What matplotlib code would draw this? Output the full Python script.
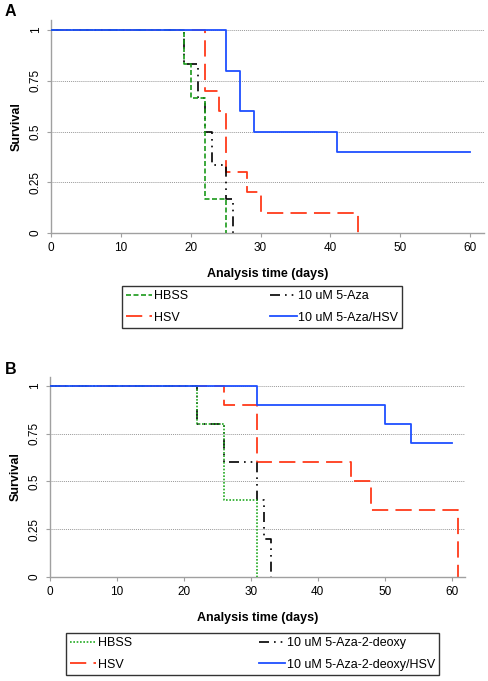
import matplotlib
matplotlib.use("Agg")
import matplotlib.pyplot as plt

plt.rcParams['font.family'] = ['Liberation Sans', 'DejaVu Sans']

# Panel A data (event times, survival after step)
a_hbss_t = [0, 19, 20, 22, 25]
a_hbss_s = [1, 0.833, 0.667, 0.167, 0]
a_aza_t = [0, 19, 21, 22, 23, 25, 26]
a_aza_s = [1, 0.833, 0.667, 0.5, 0.333, 0.167, 0]
a_hsv_t = [0, 22, 24, 25, 28, 30, 44]
a_hsv_s = [1, 0.7, 0.6, 0.3, 0.2, 0.1, 0]
a_azahsv_t = [0, 25, 27, 29, 41, 60]
a_azahsv_s = [1, 0.8, 0.6, 0.5, 0.4, 0.4]
a_labels = ["HBSS", "HSV", "10 uM 5-Aza", "10 uM 5-Aza/HSV"]

# Panel B data
b_hbss_t = [0, 22, 26, 31]
b_hbss_s = [1, 0.8, 0.4, 0]
b_aza_t = [0, 22, 26, 31, 32, 33]
b_aza_s = [1, 0.8, 0.6, 0.4, 0.2, 0]
b_hsv_t = [0, 26, 31, 45, 48, 61]
b_hsv_s = [1, 0.9, 0.6, 0.5, 0.35, 0]
b_azahsv_t = [0, 31, 50, 54, 60]
b_azahsv_s = [1, 0.9, 0.8, 0.7, 0.7]
b_labels = ["HBSS", "HSV", "10 uM 5-Aza-2-deoxy", "10 uM 5-Aza-2-deoxy/HSV"]

x_ticks = [0, 10, 20, 30, 40, 50, 60]
y_ticks = [0, 0.25, 0.5, 0.75, 1]
y_ticklabels = ["0", "0.25", "0.5", "0.75", "1"]

W, H = 489, 681
fig = plt.figure(figsize=(W / 100, H / 100), dpi=100)

RED = '#ff3a1a'
BLUE = '#1f4fff'
BLACK = '#000000'


def px_axes(left, right, top, bottom):
    return fig.add_axes([left / W, 1 - bottom / H, (right - left) / W, (bottom - top) / H])


def style(ax):
    ax.set_xlim(0, 62)
    ax.set_ylim(0, 1.05)
    ax.set_xticks(x_ticks)
    ax.set_yticks(y_ticks)
    ax.set_yticklabels(y_ticklabels, rotation=90, va='center')
    for s in ['top', 'right']:
        ax.spines[s].set_visible(False)
    for s in ['left', 'bottom']:
        ax.spines[s].set_color('#a0a0a0')
        ax.spines[s].set_linewidth(1.0)
    ax.tick_params(axis='both', colors='#a0a0a0', labelcolor='black', labelsize=8.5,
                   length=3, width=0.8)
    for yv in [0.25, 0.5, 0.75, 1.0]:
        ax.axhline(yv, xmin=0, xmax=1, color='#999999', lw=0.7, ls=(0, (1, 1)), zorder=0)
    ax.set_ylabel("Survival", fontsize=9, fontweight='bold', labelpad=5)
    ax.set_xlabel("Analysis time (days)", fontsize=9, fontweight='bold', labelpad=10)


def draw(ax, data, green_style, green_color, labels, legend_bbox, colsp):
    (ht, hs), (st, ss), (at, as_), (bt, bs) = data
    l1, = ax.step(ht, hs, where='post', color=green_color, lw=1.2, ls=green_style, zorder=3)
    l2, = ax.step(st, ss, where='post', color=RED, lw=1.3, ls=(0, (9, 4)), zorder=2)
    l3, = ax.step(at, as_, where='post', color=BLACK, lw=1.2, ls=(0, (6, 3, 1, 3, 1, 3)), zorder=2)
    l4, = ax.step(bt, bs, where='post', color=BLUE, lw=1.3, zorder=4)
    leg = fig.legend([l1, l2, l3, l4], labels, ncol=2, loc='center',
                     bbox_to_anchor=legend_bbox, fontsize=9, frameon=True,
                     fancybox=False, edgecolor='black', handlelength=2.1,
                     handletextpad=0.1, columnspacing=colsp, borderpad=0.35,
                     labelspacing=0.75)
    leg.get_frame().set_linewidth(1.0)


axA = px_axes(51, 484, 20, 233)
style(axA)
draw(axA, [(a_hbss_t, a_hbss_s), (a_hsv_t, a_hsv_s), (a_aza_t, a_aza_s), (a_azahsv_t, a_azahsv_s)],
     (0, (3, 1.5)), '#1a9a1a', a_labels, ((121 + 403) / 2 / W, 1 - (285 + 329) / 2 / H), 6.6)

axB = px_axes(50, 465, 376.5, 576.7)
style(axB)
draw(axB, [(b_hbss_t, b_hbss_s), (b_hsv_t, b_hsv_s), (b_aza_t, b_aza_s), (b_azahsv_t, b_azahsv_s)],
     (0, (1, 1)), '#22aa22', b_labels, ((65 + 440) / 2 / W, 1 - (631 + 677) / 2 / H), 10.2)

fig.text(5 / W, 1 - 12 / H, "A", fontsize=11.5, fontweight='bold', va='center', ha='left')
fig.text(5 / W, 1 - 370 / H, "B", fontsize=11.5, fontweight='bold', va='center', ha='left')

fig.savefig("out.png", dpi=100)
